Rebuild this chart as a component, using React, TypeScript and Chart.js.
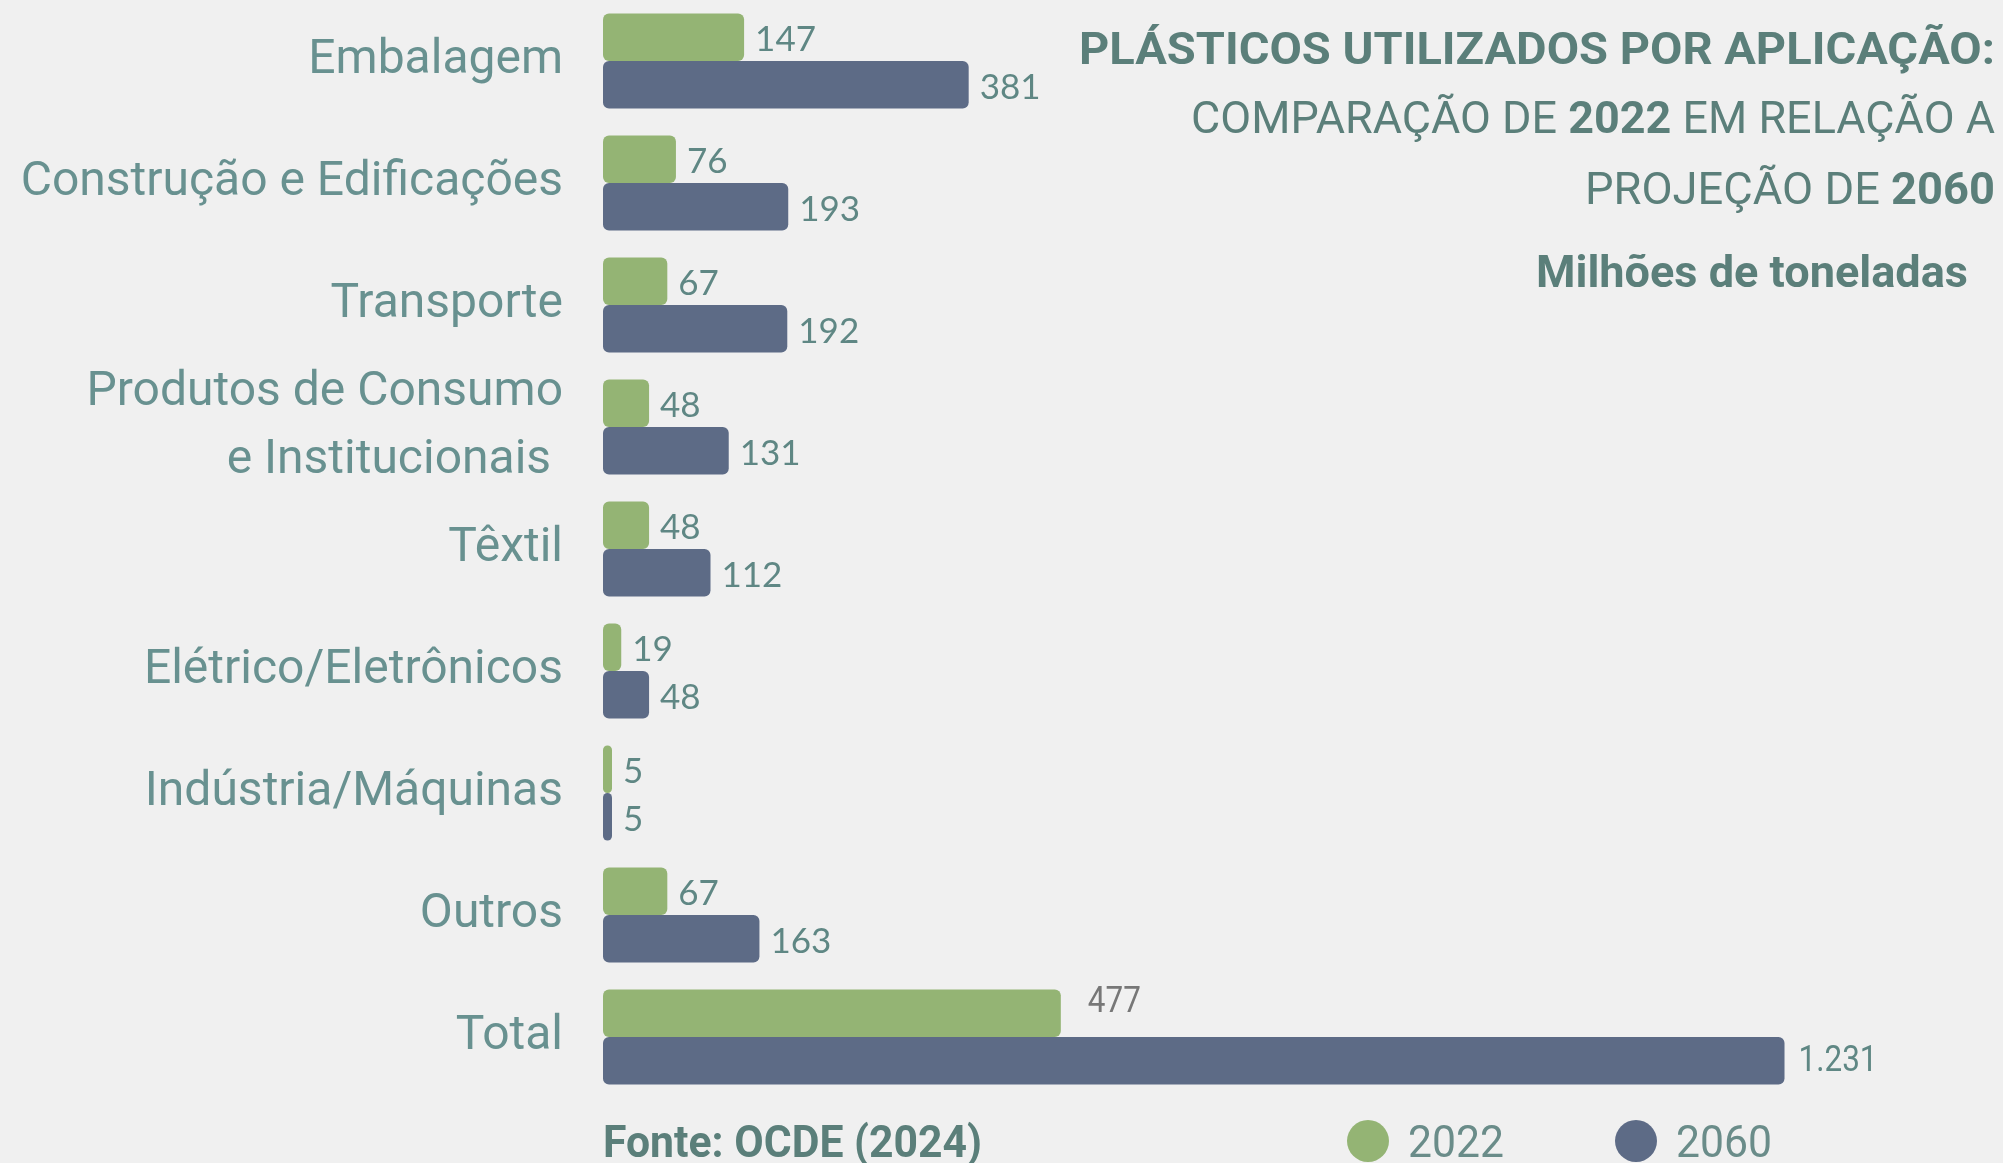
import React, { useEffect, useRef } from "react";
import { Chart, registerables } from "chart.js";
Chart.register(...registerables);

const categories: (string | string[])[] = [
  "Embalagem",
  "Construção e Edificações",
  "Transporte",
  ["Produtos de Consumo", "e Institucionais "],
  "Têxtil",
  "Elétrico/Eletrônicos",
  "Indústria/Máquinas",
  "Outros",
  "Total",
];
const values2022 = [147, 76, 67, 48, 48, 19, 5, 67, 477];
const values2060 = [381, 193, 192, 131, 112, 48, 5, 163, 1231];
const seriesNames = ["2022", "2060"];
const seriesColors = ["#94b474", "#5d6b86"];
const sourceText = "Fonte: OCDE (2024)";
const titleLines: { t: string; b: boolean }[][] = [
  [{ t: "PLÁSTICOS UTILIZADOS POR APLICAÇÃO:", b: true }],
  [
    { t: "COMPARAÇÃO DE ", b: false },
    { t: "2022", b: true },
    { t: " EM RELAÇÃO A", b: false },
  ],
  [
    { t: "PROJEÇÃO DE ", b: false },
    { t: "2060", b: true },
  ],
  [{ t: "Milhões de toneladas", b: true }],
];

const BG = "#f0f0f0";
const TEAL = "#5f8784";
const TITLE = "#5b7f7a";

function fmt(v: number): string {
  return String(v).replace(/\B(?=(\d{3})+(?!\d))/g, ".");
}

function drawFitted(
  ctx: CanvasRenderingContext2D,
  segs: { t: string; b: boolean }[],
  rightX: number,
  baseY: number,
  size: number,
  targetW: number,
  color: string
) {
  const fontOf = (b: boolean) => `${b ? "bold" : "normal"} ${size}px Roboto`;
  let total = 0;
  const widths = segs.map((s) => {
    ctx.font = fontOf(s.b);
    const w = ctx.measureText(s.t).width;
    total += w;
    return w;
  });
  const sx = targetW / total;
  ctx.save();
  ctx.translate(rightX - targetW, baseY);
  ctx.scale(sx, 1);
  ctx.fillStyle = color;
  ctx.textBaseline = "alphabetic";
  ctx.textAlign = "left";
  let x = 0;
  segs.forEach((s, i) => {
    ctx.font = fontOf(s.b);
    ctx.fillText(s.t, x, 0);
    x += widths[i];
  });
  ctx.restore();
}

const bgPlugin = {
  id: "bg",
  beforeDraw(chart: any) {
    const ctx = chart.ctx;
    ctx.save();
    ctx.fillStyle = BG;
    ctx.fillRect(0, 0, chart.width, chart.height);
    ctx.restore();
  },
};

const valueLabels = {
  id: "valueLabels",
  afterDatasetsDraw(chart: any) {
    const ctx = chart.ctx;
    const last = chart.data.labels.length - 1;
    chart.data.datasets.forEach((ds: any, di: number) => {
      const meta = chart.getDatasetMeta(di);
      meta.data.forEach((bar: any, i: number) => {
        const v = ds.data[i];
        const isTotal = i === last;
        ctx.save();
        ctx.textBaseline = "middle";
        ctx.textAlign = "left";
        if (isTotal) {
          ctx.font = "normal 37px Roboto";
          ctx.fillStyle = di === 0 ? "#777777" : TEAL;
          const off = di === 0 ? 27 : 14;
          ctx.translate(bar.x + off, bar.y - (di === 0 ? 10 : -1));
          ctx.scale(0.85, 1);
          ctx.fillText(fmt(v), 0, 0);
        } else {
          ctx.font = "normal 35px Lato";
          ctx.fillStyle = TEAL;
          ctx.fillText(fmt(v), bar.x + 11, bar.y + 3);
        }
        ctx.restore();
      });
    });
  },
};

const decorPlugin = {
  id: "decor",
  afterDraw(chart: any) {
    const ctx = chart.ctx;
    const rights = [1995, 1995, 1995, 1968];
    const bases = [64, 133, 204, 287];
    const widths = [916, 804, 410, 432];
    titleLines.forEach((segs, i) =>
      drawFitted(ctx, segs, rights[i], bases[i], 45, widths[i], TITLE)
    );
    const left = chart.chartArea.left;
    drawFitted(ctx, [{ t: sourceText, b: true }], left + 379, 1157, 45, 379, TITLE);
    const cx = [1368, 1636];
    chart.data.datasets.forEach((ds: any, i: number) => {
      ctx.save();
      ctx.fillStyle = ds.backgroundColor;
      ctx.beginPath();
      ctx.arc(cx[i], 1141, 21, 0, Math.PI * 2);
      ctx.fill();
      ctx.restore();
      drawFitted(ctx, [{ t: ds.label, b: false }], cx[i] + 40 + 96, 1157, 44, 96, "#6a8c89");
    });
  },
};

export default function App() {
  const ref = useRef<HTMLCanvasElement | null>(null);
  useEffect(() => {
    if (!ref.current) return;
    const chart = new Chart(ref.current, {
      type: "bar",
      data: {
        labels: categories as any,
        datasets: [
          {
            label: seriesNames[0],
            data: values2022,
            backgroundColor: seriesColors[0],
            borderRadius: 6,
            borderSkipped: false,
            minBarLength: 9,
          },
          {
            label: seriesNames[1],
            data: values2060,
            backgroundColor: seriesColors[1],
            borderRadius: 6,
            borderSkipped: false,
            minBarLength: 9,
          },
        ],
      },
      options: {
        indexAxis: "y",
        responsive: false,
        animation: false,
        layout: { padding: { left: 0, right: 63, top: 0, bottom: 65 } },
        datasets: {
          bar: { categoryPercentage: 0.78, barPercentage: 1 },
        },
        scales: {
          x: { display: false, min: 0, max: 1393 },
          y: {
            grid: { display: false, drawTicks: false },
            border: { display: false },
            ticks: {
              autoSkip: false,
              padding: 40,
              color: "#689190",
              font: { family: "Roboto", size: 48, lineHeight: 1.4 },
            },
            afterFit(scale: any) {
              scale.width = 603;
              scale.paddingTop = 0;
              scale.paddingBottom = 0;
            },
          },
        },
        plugins: {
          legend: { display: false },
          title: { display: false },
          tooltip: { enabled: false },
        },
      },
      plugins: [bgPlugin, valueLabels, decorPlugin],
    } as any);
    return () => chart.destroy();
  }, []);
  return (
    <div
      style={{
        position: "fixed",
        left: 0,
        top: 0,
        width: 2003,
        height: 1163,
        background: BG,
        overflow: "hidden",
      }}
    >
      <canvas ref={ref} width={2003} height={1163} style={{ display: "block" }} />
    </div>
  );
}
